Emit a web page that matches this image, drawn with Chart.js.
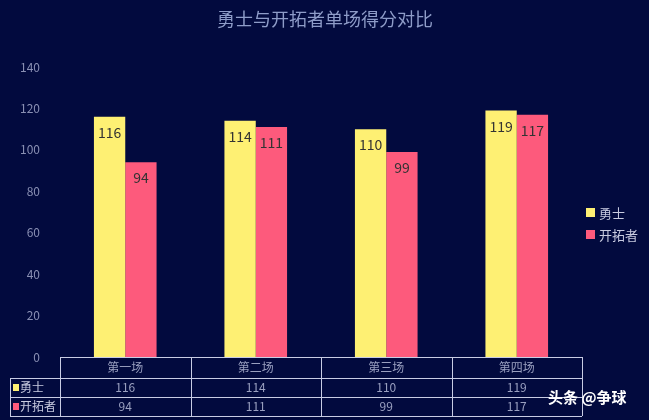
<!DOCTYPE html>
<html><head><meta charset="utf-8">
<script src="https://cdn.jsdelivr.net/npm/chart.js@4"></script>
<style>html,body{margin:0;background:#020a3e;}#wrap{width:649px;height:420px;position:relative;}</style>
</head><body><div id="wrap"><canvas id="c"></canvas></div>
<script>
const categories = ['第一场', '第二场', '第三场', '第四场'];
const warriors = [116, 114, 110, 119];
const blazers = [94, 111, 99, 117];
const seriesNames = ['勇士', '开拓者'];
const colors = ['#fef073', '#fd5a7c'];
const FONT = '"Noto Sans CJK SC", "Noto Sans", sans-serif';

const extras = {
  id: 'extras',
  afterDatasetsDraw(chart) {
    const ctx = chart.ctx;
    // value labels inside the bar tops
    ctx.save();
    ctx.font = '14px ' + FONT;
    ctx.fillStyle = '#333';
    ctx.textAlign = 'center';
    chart.data.datasets.forEach((ds, i) => {
      chart.getDatasetMeta(i).data.forEach((bar, j) => {
        ctx.fillText(ds.data[j], bar.x, bar.y + 21);
      });
    });
    ctx.restore();
  },
  afterDraw(chart) {
    const ctx = chart.ctx;
    const a = chart.chartArea;
    const x = chart.scales.x;
    ctx.save();
    // title
    ctx.font = '18px ' + FONT;
    ctx.fillStyle = '#8e9cc8';
    ctx.textAlign = 'center';
    ctx.fillText('勇士与开拓者单场得分对比', 325, 26);
    // legend
    ctx.font = '13px ' + FONT;
    ctx.textAlign = 'left';
    seriesNames.forEach((n, i) => {
      const y = 213 + i * 22;
      ctx.fillStyle = colors[i];
      ctx.fillRect(586, y - 5, 9, 9);
      ctx.fillStyle = '#c8cbe0';
      ctx.fillText(n, 599, y + 5);
    });
    // data table
    const rows = [357, 378, 397, 416];
    const cw = (a.right - a.left) / categories.length;
    ctx.strokeStyle = '#c8cce4';
    ctx.lineWidth = 1;
    ctx.beginPath();
    ctx.moveTo(a.left, rows[0] + 0.5); ctx.lineTo(a.right, rows[0] + 0.5);
    for (let r = 1; r < 4; r++) { ctx.moveTo(10, rows[r] + 0.5); ctx.lineTo(a.right, rows[r] + 0.5); }
    ctx.moveTo(10.5, rows[1]); ctx.lineTo(10.5, rows[3]);
    for (let k = 0; k <= categories.length; k++) {
      const xx = Math.round(a.left + k * cw) + 0.5;
      ctx.moveTo(xx, rows[0]); ctx.lineTo(xx, rows[3]);
    }
    ctx.stroke();
    ctx.font = '12px ' + FONT;
    ctx.fillStyle = '#9aa0c0';
    ctx.textAlign = 'center';
    const sets = [warriors, blazers];
    categories.forEach((c, k) => {
      const cx = x.getPixelForValue(k);
      ctx.fillText(c, cx, rows[0] + 15);
      sets.forEach((s, i) => ctx.fillText(s[k], cx, rows[i + 1] + 14));
    });
    ctx.textAlign = 'left';
    seriesNames.forEach((n, i) => {
      const y = rows[i + 1];
      ctx.fillStyle = colors[i];
      ctx.fillRect(13, y + 6, 6, 7);
      ctx.fillStyle = '#c8cbe0';
      ctx.fillText(n, 20, y + 14);
    });
    // watermark
    ctx.font = 'bold 15px ' + FONT;
    ctx.fillStyle = '#ffffff';
    ctx.fillText('头条 @争球', 548, 403);
    ctx.restore();
  }
};

new Chart(document.getElementById('c'), {
  type: 'bar',
  data: {
    labels: categories,
    datasets: [
      { label: seriesNames[0], data: warriors, backgroundColor: colors[0] },
      { label: seriesNames[1], data: blazers, backgroundColor: colors[1] }
    ]
  },
  options: {
    responsive: true,
    maintainAspectRatio: false,
    animation: false,
    layout: { padding: { top: 67, right: 67, bottom: 63, left: 0 } },
    datasets: { bar: { barPercentage: 1, categoryPercentage: 0.48 } },
    plugins: { legend: { display: false }, tooltip: { enabled: false } },
    scales: {
      x: { display: false },
      y: {
        min: 0, max: 140,
        ticks: { stepSize: 20, color: '#8a90b4', font: { size: 12, family: FONT }, padding: 12 },
        grid: { display: false },
        border: { display: false },
        afterFit(s) { s.width = 60; }
      }
    }
  },
  plugins: [extras]
});
</script></body></html>
